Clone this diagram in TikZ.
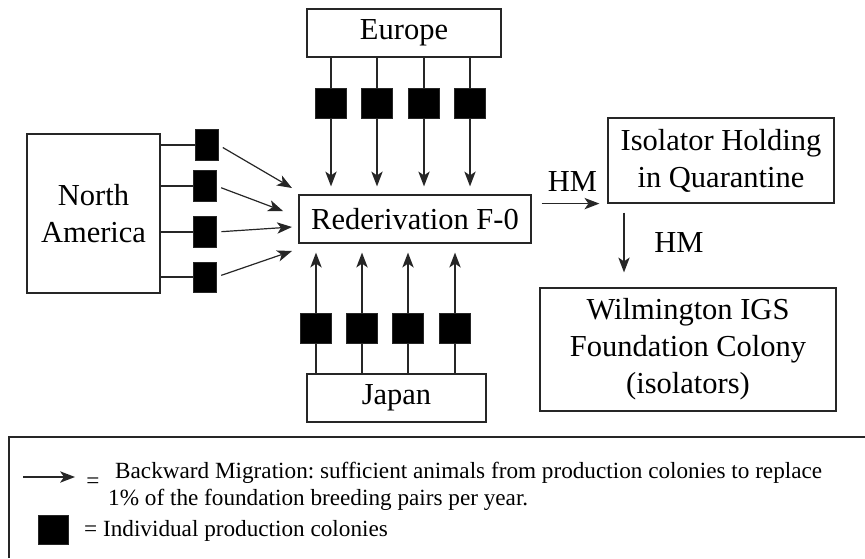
\documentclass[tikz,border=0pt]{standalone}
\usepackage{fontspec}
\setmainfont{Liberation Serif}
\usetikzlibrary{arrows.meta,calc}

\tikzset{
  box/.style={draw=black!85, line width=1.2pt, inner sep=0pt, align=center,
              font=\fontsize{30.5}{37}\selectfont},
  colony/.style={fill=black, draw=black!85, line width=1pt, inner sep=0pt},
  link/.style={draw=black!85, line width=1.2pt},
  tip/.tip={Stealth[length=15pt,width=11.5pt,inset=4pt,line width=0pt]},
  arr/.style={link, -tip},
  lbl/.style={inner sep=0pt, font=\fontsize{30.5}{37}\selectfont},
  legtext/.style={inner sep=0pt, anchor=base west, font=\fontsize{23.2}{28}\selectfont}
}

\begin{document}
\frenchspacing
\begin{tikzpicture}[x=1pt,y=-1pt]
\useasboundingbox (0,0) rectangle (865,558);

% main boxes
\node[box, minimum width=194pt, minimum height=48pt] (europe) at (404,33) {Europe};
\node[box, minimum width=133pt, minimum height=159pt] (na) at (93.5,213.5) {North\\America};
\node[box, minimum width=232pt, minimum height=48pt] (red) at (415,219) {Rederivation F-0};
\node[box, minimum width=179pt, minimum height=48pt] (japan) at (396.5,398) {Japan};
\node[box, minimum width=226pt, minimum height=85pt] (iso) at (721,160.5) {Isolator Holding\\in Quarantine};
\node[box, minimum width=296pt, minimum height=123pt] (wil) at (688,349.5) {Wilmington IGS\\Foundation Colony\\(isolators)};

% production colonies: Europe
\foreach \i/\x in {1/331,2/377,3/424,4/470}{
  \node[colony, minimum width=31pt, minimum height=30pt] (eu\i) at (\x,103) {};
  \draw[link] (europe.south -| eu\i) -- (eu\i.north);
  \draw[arr, shorten >=8pt] (eu\i.south) -- (eu\i |- red.north);
}

% production colonies: Japan
\foreach \i/\x in {1/316,2/362,3/408,4/455}{
  \node[colony, minimum width=31pt, minimum height=30pt] (jp\i) at (\x,328) {};
  \draw[link] (japan.north -| jp\i) -- (jp\i.south);
  \draw[arr, shorten >=9pt] (jp\i.north) -- (jp\i |- red.south);
}

% production colonies: North America
\node[colony, minimum width=23pt, minimum height=31pt] (na1) at (206.5,145) {};
\node[colony, minimum width=23pt, minimum height=31pt] (na2) at (204.5,186) {};
\node[colony, minimum width=23pt, minimum height=31pt] (na3) at (204.5,232) {};
\node[colony, minimum width=23pt, minimum height=30pt] (na4) at (204.5,277) {};
\foreach \i in {1,...,4}{
  \draw[link] (na.east |- na\i.west) -- (na\i.west);
}
\coordinate (t1) at (292,188);
\coordinate (t2) at (283,211);
\coordinate (t3) at (292,227);
\coordinate (t4) at (292,251);
\draw[arr, shorten <=5pt] (na1.east) -- (t1);
\draw[arr, shorten <=5pt] (na2.east) -- (t2);
\draw[arr, shorten <=5pt] (na3.east) -- (t3);
\draw[arr, shorten <=5pt] (na4.east) -- (t4);

% hand-carried moves
\draw[arr, shorten <=10pt, shorten >=8pt] (red.east |- iso.south west) -- (iso.south west);
\node[lbl] (hm1) at (572.5,182) {HM};
\draw[arr, shorten <=9pt, shorten >=15pt] (iso.south -| 624,0) -- (wil.north -| 624,0);
\node[lbl] (hm2) at (679,243) {HM};

% legend
\draw[link] (9,558) -- (9,437) -- (865,437);
\coordinate (la1) at (23,477);
\coordinate (la2) at (75,477);
\draw[arr] (la1) -- (la2);
\node[inner sep=0pt, font=\fontsize{23.2}{28}\selectfont] (eq1) at (93,483) {=};
\node[legtext] (leg1) at (115,478) {Backward Migration: sufficient animals from production colonies to replace};
\node[legtext] (leg2) at (108,505) {1\% of the foundation breeding pairs per year.};
\node[colony, minimum width=30pt, minimum height=29pt] (legsq) at (53,529.5) {};
\node[legtext] (leg3) at (84,536) {= Individual production colonies};
\end{tikzpicture}
\end{document}
